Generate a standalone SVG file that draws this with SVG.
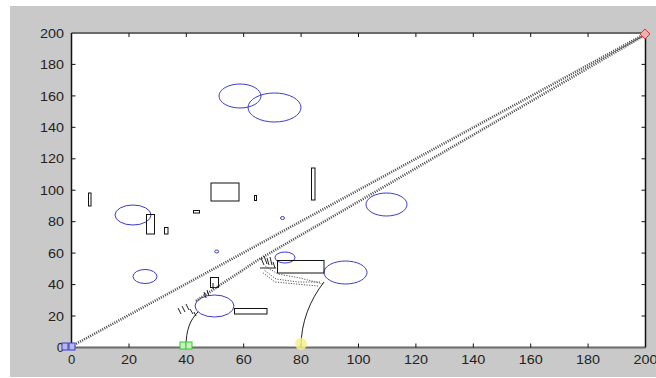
<svg xmlns="http://www.w3.org/2000/svg" width="656" height="378" viewBox="0 0 656 378">
<style>
.lbl{font-family:"Liberation Sans",Arial,sans-serif;font-size:13px;fill:#222}
.xl{text-anchor:middle}
.yl{text-anchor:end}
.ell{fill:none;stroke:#3b3bd0;stroke-width:1}
.box{fill:none;stroke:#111;stroke-width:1}
.dot{fill:none;stroke:#444;stroke-width:2.6;stroke-dasharray:1 1.3}
.dot1{fill:none;stroke:#555;stroke-width:1;stroke-dasharray:1.2 1.4}
.crv{fill:none;stroke:#222;stroke-width:1}
.tk{stroke:#111;stroke-width:1}
</style>
<rect x="0" y="0" width="656" height="378" fill="#ffffff"/>
<rect x="10" y="6" width="646" height="371" fill="#c9c9c9"/>
<g id="axes">
<rect x="71.5" y="33" width="574" height="314.5" fill="#ffffff"/>
<line x1="71.5" y1="33" x2="645.5" y2="33" stroke="#6a6a6a" stroke-width="2"/>
<line x1="71.5" y1="347.5" x2="645.5" y2="347.5" stroke="#6a6a6a" stroke-width="2"/>
<line x1="71.5" y1="33" x2="71.5" y2="347.5" stroke="#111" stroke-width="1.5"/>
<line x1="645.5" y1="33" x2="645.5" y2="347.5" stroke="#111" stroke-width="1.5"/>
<g class="tk">
<path d="M129,347.5v-4M186.3,347.5v-4M243.7,347.5v-4M301.1,347.5v-4M358.5,347.5v-4M415.9,347.5v-4M473.3,347.5v-4M530.7,347.5v-4M588.1,347.5v-4"/>
<path d="M129,33v4M186.3,33v4M243.7,33v4M301.1,33v4M358.5,33v4M415.9,33v4M473.3,33v4M530.7,33v4M588.1,33v4"/>
<path d="M71.5,316h4M71.5,284.6h4M71.5,253.1h4M71.5,221.7h4M71.5,190.2h4M71.5,158.8h4M71.5,127.3h4M71.5,95.9h4M71.5,64.4h4"/>
<path d="M645.5,316h-4M645.5,284.6h-4M645.5,253.1h-4M645.5,221.7h-4M645.5,190.2h-4M645.5,158.8h-4M645.5,127.3h-4M645.5,95.9h-4M645.5,64.4h-4"/>
</g>
<g class="lbl xl">
<text x="71.5" y="364">0</text>
<text x="129" y="364" textLength="16" lengthAdjust="spacingAndGlyphs">20</text>
<text x="186.3" y="364" textLength="16" lengthAdjust="spacingAndGlyphs">40</text>
<text x="243.7" y="364" textLength="16" lengthAdjust="spacingAndGlyphs">60</text>
<text x="301.1" y="364" textLength="16" lengthAdjust="spacingAndGlyphs">80</text>
<text x="358.5" y="364" textLength="24" lengthAdjust="spacingAndGlyphs">100</text>
<text x="415.9" y="364" textLength="24" lengthAdjust="spacingAndGlyphs">120</text>
<text x="473.3" y="364" textLength="24" lengthAdjust="spacingAndGlyphs">140</text>
<text x="530.7" y="364" textLength="24" lengthAdjust="spacingAndGlyphs">160</text>
<text x="588.1" y="364" textLength="24" lengthAdjust="spacingAndGlyphs">180</text>
<text x="645.5" y="364" textLength="24" lengthAdjust="spacingAndGlyphs">200</text>
</g>
<g class="lbl yl">
<text x="64" y="352">0</text>
<text x="64" y="320.6" textLength="16" lengthAdjust="spacingAndGlyphs">20</text>
<text x="64" y="289.2" textLength="16" lengthAdjust="spacingAndGlyphs">40</text>
<text x="64" y="257.7" textLength="16" lengthAdjust="spacingAndGlyphs">60</text>
<text x="64" y="226.3" textLength="16" lengthAdjust="spacingAndGlyphs">80</text>
<text x="64" y="194.8" textLength="24" lengthAdjust="spacingAndGlyphs">100</text>
<text x="64" y="163.4" textLength="24" lengthAdjust="spacingAndGlyphs">120</text>
<text x="64" y="131.9" textLength="24" lengthAdjust="spacingAndGlyphs">140</text>
<text x="64" y="100.5" textLength="24" lengthAdjust="spacingAndGlyphs">160</text>
<text x="64" y="69" textLength="24" lengthAdjust="spacingAndGlyphs">180</text>
<text x="64" y="37.6" textLength="24" lengthAdjust="spacingAndGlyphs">200</text>
</g>
</g>
<g id="obstacles-circles">
<ellipse class="ell" cx="240" cy="96" rx="21" ry="12"/>
<ellipse class="ell" cx="274.5" cy="107.5" rx="26.5" ry="14.5"/>
<ellipse class="ell" cx="133" cy="215" rx="18" ry="10"/>
<ellipse class="ell" cx="145" cy="276.5" rx="12" ry="7"/>
<ellipse class="ell" cx="214.5" cy="306" rx="19.5" ry="11"/>
<ellipse class="ell" cx="345.5" cy="272.5" rx="21.5" ry="11.5"/>
<ellipse class="ell" cx="386.5" cy="204.5" rx="20.5" ry="11.5"/>
<ellipse class="ell" cx="285" cy="257.5" rx="10" ry="5.5"/>
<ellipse class="ell" cx="216.7" cy="251.5" rx="2" ry="1.5"/>
<ellipse class="ell" cx="282.5" cy="218" rx="2" ry="1.5"/>
</g>
<g id="obstacles-rects">
<rect class="box" x="211" y="183" width="28" height="18" stroke-width="1.5"/>
<rect class="box" x="254.5" y="195.5" width="2" height="5"/>
<rect class="box" x="311.5" y="168" width="3.5" height="32"/>
<rect class="box" x="88.5" y="193" width="2.5" height="13"/>
<rect class="box" x="193.5" y="210.5" width="6" height="2.5"/>
<rect class="box" x="146.5" y="214.5" width="8" height="19.5"/>
<rect class="box" x="164.5" y="227.5" width="3.5" height="6.5"/>
<rect class="box" x="234.5" y="308.5" width="32.5" height="5.5"/>
<rect class="box" x="277.5" y="260.5" width="46.5" height="12.5"/>
<rect class="box" x="210.5" y="277.5" width="8" height="10"/>
</g>
<g id="connectors">
<line class="dot" x1="72" y1="346" x2="645" y2="34"/>
<polyline class="dot" points="196,301 258,260 645,35"/>
<polyline class="dot1" points="323,284 300,278 278,274 265,266"/>
<polyline class="dot1" points="320,282 298,282 276,279 264,270"/>
<polyline class="dot1" points="318,286 296,284 275,282 262,272"/>
<path class="crv" d="M186,347 C186,330 190,320 198,312"/>
<path class="crv" d="M301,347 C301,322 310,300 324,282"/>
<g class="crv">
<path d="M178,308l3,6M182,306l3,6M186,304l3,6M190,309l3,5M194,312l2,4"/>
<path d="M204,292l2,6M207,290l2,6M213,289v-6"/>
<path d="M261,258l3,7M264,256l3,8M267,258l2,7M270,257l2,8M273,262l2,6M260,268h16"/>
</g>
</g>
<g id="markers">
<rect x="62" y="343" width="6" height="7" fill="#b8b8f0" stroke="#3b3bd0" stroke-width="1"/>
<rect x="69" y="343" width="6" height="7" fill="#b8b8f0" stroke="#3b3bd0" stroke-width="1"/>
<rect x="180" y="342" width="6" height="7" fill="#c8f0c0" stroke="#33cc33" stroke-width="1"/>
<rect x="186" y="342" width="6" height="7" fill="#c8f0c0" stroke="#33cc33" stroke-width="1"/>
<circle cx="301" cy="344" r="6" fill="#f4f08a" opacity="0.85"/>
<path d="M645,29 l5,5 l-5,5 l-5,-5z" fill="#f0b0b0" stroke="#e03030" stroke-width="1"/>
</g>
</svg>
